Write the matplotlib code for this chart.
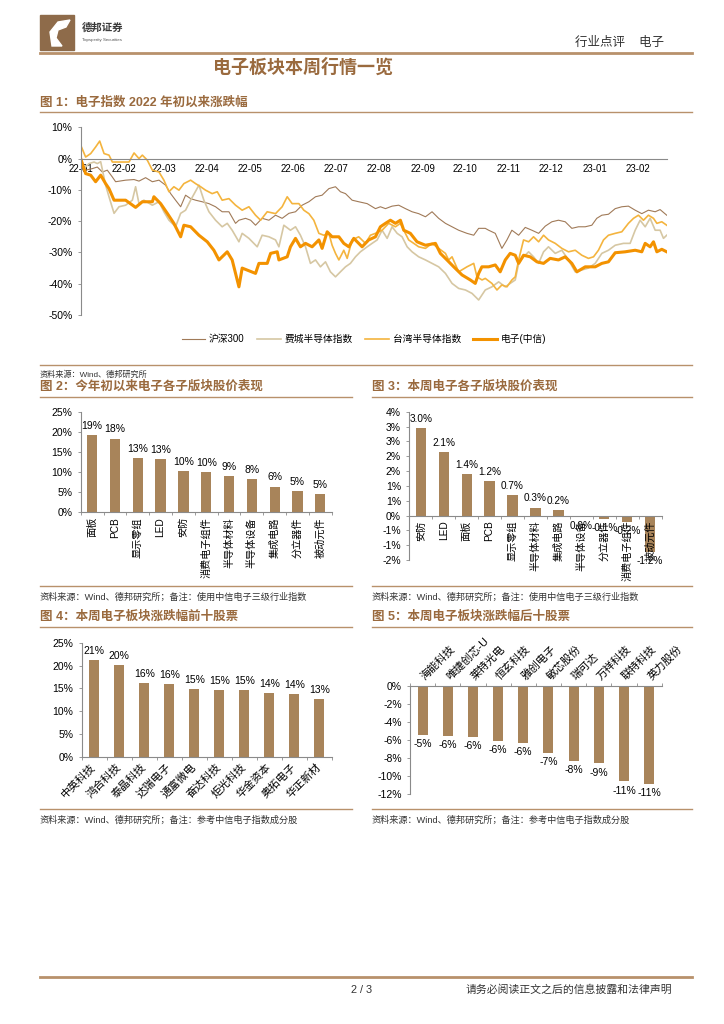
import datetime
import numpy as np
import matplotlib
matplotlib.use("Agg")
import matplotlib.pyplot as plt
import matplotlib.dates as mdates
from matplotlib.lines import Line2D
from matplotlib.patches import Rectangle, Polygon

plt.rcParams['font.family'] = ['Liberation Sans', 'Noto Sans CJK SC']

# ---------- data ----------
# fig 1: (days since 2022-01-01, % change)
hs300 = [(0,-0.5),(3.5,-3.7),(8.3,-3.2),(11.8,-2.7),(15.4,-4.3),(18.9,-3.7),(22.5,-5.9),(24.8,-7.4),(31.9,-6.9),(37.9,-6.7),
         (41.4,-7.2),(46.1,-6.1),(50.9,-7.4),(55.6,-6.9),(60.3,-8.5),(63.9,-11.2),(67.4,-13.3),(71,-15.4),(74.5,-11.7),(78.1,-12.8),
         (81.6,-13.3),(86.3,-13.8),(91.1,-14.4),(95.8,-15.4),(100.5,-17),(105.3,-17),(110,-20.7),(112.4,-19.7),(117.1,-19.1),(120.7,-19.7),
         (124.2,-21.3),(128.9,-19.1),(133.7,-19.7),(138.4,-18.1),(143.1,-19.1),(147.9,-17.5),(152.6,-17),(157.3,-14.9),(162.1,-13.8),(166.8,-12.2),
         (171.5,-11.7),(176.3,-9.6),(181,-9),(184.5,-10.6),(188.1,-11.2),(192.8,-13.3),(197.5,-13.8),(203.5,-14.4),(209.4,-16),(212.9,-15.4),
         (216.5,-16),(221.2,-15.2),(225.9,-14.9),(230.7,-16),(235.4,-17),(240.1,-17.6),(244.9,-18.6),(249.6,-17),(254.3,-19.1),(259.1,-20.7),
         (263.8,-21.8),(268.5,-22.9),(274.4,-23.9),(279.2,-24.5),(282.7,-22.3),(287.4,-22.3),(289.8,-22.9),(294.5,-23.9),(299.2,-28.7),(302.8,-26),
         (306.3,-22.9),(311.1,-24.5),(315.8,-22),(320.5,-22.9),(325.3,-23.9),(330,-21.6),(334.7,-20.2),(339.4,-19.7),(344.2,-20.2),(348.9,-22.3),
         (353.6,-21.8),(358.4,-21.8),(363.1,-21.3),(366.6,-19.1),(370.2,-18.1),(374.9,-17.8),(379.7,-16),(384.4,-15.4),(389.1,-15.2),(393.9,-16.5),
         (398.6,-17.6),(403.3,-16.5),(408.1,-17),(411.6,-16.3),(416.3,-18.1)]
phlx = [(0,0.5),(2.4,-3.2),(5.9,-1.6),(9.5,-1.1),(11.8,-1.6),(14.2,-1),(17.7,-8.5),(20.1,-12.2),(23.7,-17.5),(27.2,-15.4),
        (31.9,-14.9),(36.7,-13.3),(39,-9),(41.4,-14.4),(44.9,-13.3),(50.9,-14.9),(55.6,-13.8),(59.1,-17),(62.7,-19.7),(67.4,-21.8),
        (71,-17.5),(74.5,-16.5),(78.1,-13.3),(84,-8.5),(87.5,-13.3),(91.1,-17),(95.8,-19.7),(100.5,-21.8),(104.1,-20.7),(107.6,-22.9),
        (112.4,-26.6),(114.7,-23.9),(119.5,-25.5),(125.4,-28.2),(128.9,-24.5),(133.7,-25),(138.4,-26),(140.8,-28.2),(144.3,-21.3),(149,-22.9),
        (152.6,-21.8),(156.1,-24.5),(159.7,-28.2),(163.2,-33.5),(166.8,-32.4),(170.3,-34.6),(173.9,-33),(177.4,-36.2),(181,-37.8),(184.5,-36.2),
        (188.1,-34.6),(191.6,-33.5),(195.2,-31.4),(198.7,-29.8),(203.5,-28.2),(207,-27.1),(210.6,-26),(214.1,-22.9),(217.7,-25.5),(221.2,-21.8),
        (224.8,-23.9),(228.3,-25),(231.9,-28.2),(235.4,-29.8),(240.1,-31.4),(244.9,-32.4),(249.6,-33.5),(254.3,-34.6),(259.1,-36.7),(263.8,-39.9),
        (268.5,-41.5),(273.3,-42),(278,-43.1),(282.7,-45.2),(287.4,-42),(292.1,-41),(296.9,-39.4),(301.6,-41),(305.1,-39.9),(308.7,-38.8),
        (311.1,-33.5),(314.6,-31.4),(318.2,-29.8),(321.7,-31.4),(325.3,-33.5),(328.8,-29.8),(332.3,-28.2),(337.1,-30.3),(341.8,-29.3),(346.5,-32.4),
        (351.3,-36.2),(356,-35.6),(360.7,-35),(365.5,-33.5),(370.2,-30.3),(374.9,-29.3),(379.7,-27.7),(385.6,-27.1),(390.3,-27.1),(393.9,-22.9),
        (397.4,-19.7),(401,-21.8),(404.5,-19.1),(408.1,-22.9),(411.6,-22.9),(414,-25.5),(416.3,-24.5)]
twse = [(0,4.3),(3.5,0.5),(7.1,1.6),(10.6,3.7),(13.5,5.6),(16.6,1.6),(20.1,1.1),(22.5,-1.1),(27.2,-1.1),(34.3,-1.1),
        (37.9,1.8),(41.4,0),(43.8,1.1),(47.3,-0.5),(50.9,-3.7),(55.6,-4.3),(59.1,-6.9),(62.7,-10.6),(66.2,-9),(69.8,-10.1),
        (73.3,-8),(78.1,-6.9),(81.6,-8),(85.2,-9),(88.7,-10.1),(93.4,-11.2),(97,-10.6),(100.5,-13.3),(105.3,-12.8),(110,-14.9),
        (114.7,-16.5),(119.5,-15.4),(124.2,-18.1),(127.8,-19.7),(132.5,-17),(138.4,-17.6),(143.1,-15.4),(146.7,-12.2),(150.2,-14.4),(155,-14.4),
        (158.5,-16.5),(162.1,-17.6),(165.6,-19.7),(169.2,-23.9),(172.7,-24.5),(176.3,-23.9),(178.6,-27.7),(181,-30.3),(183.4,-32.4),(186.9,-29.3),
        (189.3,-31.9),(192.8,-26),(197.5,-25),(202.3,-27.1),(205.8,-24.5),(209.4,-23.9),(214.1,-22.9),(218.8,-20.7),(223.6,-21.8),(227.1,-20.7),
        (229.5,-22.9),(233,-26),(236.6,-27.1),(240.1,-28.2),(244.9,-28.7),(249.6,-27.1),(254.3,-28.7),(259.1,-30.3),(261.4,-32.4),(263.8,-31.4),
        (268.5,-36.2),(274.4,-34.6),(279.2,-33.5),(281.5,-37.8),(285.1,-38.8),(287.4,-38.3),(292.1,-39.9),(295.7,-42),(299.2,-40.4),(302.8,-41),
        (306.3,-38.8),(308.7,-37.8),(311.1,-32.4),(314.6,-26),(318.2,-26.6),(321.7,-25),(325.3,-26.6),(328.8,-24.5),(332.3,-26),(337.1,-27.1),
        (341.8,-28.7),(346.5,-29.8),(351.3,-29.3),(356,-30.9),(360.7,-31.9),(364.3,-31.4),(367.8,-29.3),(371.4,-26),(374.9,-24.5),(379.7,-23.9),
        (384.4,-23.4),(389.1,-20.7),(392.7,-19.1),(396.2,-18.1),(399.8,-19.7),(403.3,-18.1),(406.9,-19.1),(409.3,-20.7),(412.8,-20.2),(416.3,-21.3)]
citic_elec = [(0,0),(3.5,-4.8),(7.1,-5.3),(10.6,-7.4),(14.2,-5.3),(17.7,-8),(20.1,-9.6),(23.7,-13.3),(31.9,-13.3),(39,-15.6),
              (43.8,-13.8),(50.9,-13.8),(52,-12.2),(56.8,-14.4),(61.5,-17.5),(66.2,-20.7),(71,-25),(73.3,-21.3),(78.1,-21.8),(84,-24.5),
              (89.9,-26.6),(94.6,-29.3),(98.2,-32.4),(104.1,-29.8),(107.6,-32.4),(112.4,-41),(114.7,-35),(124.2,-36.7),(126.6,-33.5),(132.5,-33.5),
              (134.9,-30.3),(139.6,-29.8),(140.8,-32.4),(146.7,-31.4),(149,-28.2),(152.6,-25.5),(156.1,-28.2),(159.7,-27.1),(164.4,-28.2),(169.2,-26),
              (171.5,-28.7),(175.1,-23.4),(178.6,-25),(183.4,-25),(186.9,-27.1),(190.5,-28.2),(194,-25.5),(199.9,-28.2),(204.6,-26),(209.4,-25),
              (212.9,-21.8),(216.5,-20.7),(220,-19.7),(223.6,-20.7),(227.1,-19.7),(229.5,-22.9),(234.2,-23.9),(238.9,-26.6),(244.9,-27.7),(252,-27.1),
              (255.5,-30.3),(260.2,-32.4),(265,-34.6),(270.9,-37.2),(276.8,-38.8),(280.3,-39.9),(282.7,-36.7),(285,-34.6),(289.8,-34.6),(294.5,-34),
              (298,-36.2),(301.6,-32.4),(305.1,-30.3),(308.7,-30.9),(311.1,-33.5),(314.6,-30.9),(319.3,-31.4),(324.1,-33),(328.8,-33.5),(333.5,-31.9),
              (339.4,-32.4),(344.2,-31.4),(348.9,-33.5),(352.5,-36.2),(358.4,-34.6),(365.5,-34.6),(370.2,-33.5),(374.9,-33),(379.7,-30.1),(386.8,-29.8),
              (393.9,-29.3),(398.6,-29.8),(401,-27.1),(404.5,-28.2),(406.9,-26.6),(409.3,-29.8),(412.8,-29),(416.3,-29.8)]

# fig 2: YTD by sub-sector
ytd_names = ['面板', 'PCB', '显示零组', 'LED', '安防', '消费电子组件', '半导体材料', '半导体设备', '集成电路', '分立器件', '被动元件']
ytd_vals = [19.1, 18.3, 13.4, 13.3, 10.2, 9.9, 9.1, 8.2, 6.4, 5.3, 4.6]

# fig 3: this week by sub-sector
wk_names = ['安防', 'LED', '面板', 'PCB', '显示零组', '半导体材料', '集成电路', '半导体设备', '分立器件', '消费电子组件', '被动元件']
wk_vals = [2.96, 2.14, 1.41, 1.16, 0.68, 0.27, 0.18, -0.04, -0.12, -0.21, -1.24]

# fig 4 / fig 5: top and bottom ten stocks
top_names = ['中英科技', '鸿合科技', '泰晶科技', '达瑞电子', '通富微电', '奋达科技', '炬光科技', '华金资本', '奥拓电子', '华正新材']
top_vals = [21.1, 20.1, 16.1, 15.9, 14.8, 14.7, 14.6, 14.0, 13.7, 12.6]
bot_names = ['海能科技', '唯捷创芯-U', '莱特光电', '恒玄科技', '雅创电子', '敏芯股份', '瑞可达', '万祥科技', '联特科技', '英力股份']
bot_vals = [-5.45, -5.55, -5.7, -6.1, -6.3, -7.4, -8.3, -8.6, -10.6, -10.9]

# ---------- page ----------
W, H = 724, 1024
BROWN_TXT = '#9A6A3E'
RULE = '#B8916B'
BAR = '#A8845A'
AXIS = '#8A8A8A'
TICK_FS = 7.5


def fx(x):
    return x / W


def fy(y):
    return 1 - y / H


fig = plt.figure(figsize=(7.24, 10.24), dpi=100)


def hline(x0, x1, y, lw=1.0, color=RULE):
    fig.add_artist(Line2D([fx(x0), fx(x1)], [fy(y), fy(y)], transform=fig.transFigure, color=color, lw=lw))


def add_ax(l, r, t, b):
    return fig.add_axes([fx(l), fy(b), fx(r) - fx(l), (b - t) / H])


def style(ax):
    for s in ['top', 'right']:
        ax.spines[s].set_visible(False)
    for s in ['left', 'bottom']:
        ax.spines[s].set_color(AXIS)
        ax.spines[s].set_linewidth(0.8)
    ax.tick_params(labelsize=TICK_FS, colors='black', length=2.5, width=0.6, color=AXIS)
    ax.patch.set_alpha(0)


def pct_round(v):
    # excel style half-up rounding for axis labels
    return f"{int(np.sign(v) * np.floor(abs(v) + 0.5))}%"


# header
fig.add_artist(Rectangle((fx(40), fy(50)), fx(34), 35 / H, transform=fig.transFigure, color='#8E6B4A'))
fig.add_artist(Polygon([(fx(52), fy(46)), (fx(50), fy(32)), (fx(58), fy(22)), (fx(70), fy(20)),
                        (fx(66), fy(27)), (fx(58), fy(30)), (fx(56), fy(38)), (fx(62), fy(46))],
                       closed=True, transform=fig.transFigure, color='white'))
fig.text(fx(82), fy(28), '德邦证券', fontsize=7.5, fontweight='bold', color='#3a3a3a', va='center')
fig.text(fx(82), fy(40), 'Topsperity Securities', fontsize=3.2, color='#555555', va='center')
fig.text(fx(664), fy(43), '行业点评    电子', fontsize=9, color='#333333', ha='right', va='center')
hline(40, 692, 53, lw=2.0)
fig.text(fx(303), fy(68), '电子板块本周行情一览', fontsize=13, fontweight='bold', color=BROWN_TXT, ha='center', va='center')

CAP_FS = 9
SRC_FS = 6.6

# figure captions and rules
fig.text(fx(40), fy(103), '图 1：电子指数 2022 年初以来涨跌幅', fontsize=CAP_FS, fontweight='bold', color=BROWN_TXT, va='center')
hline(40, 692, 112)
hline(40, 692, 365)
fig.text(fx(40), fy(375), '资料来源：Wind、德邦研究所', fontsize=5.9, color='#333333', va='center')

fig.text(fx(40), fy(387), '图 2：今年初以来电子各子版块股价表现', fontsize=CAP_FS, fontweight='bold', color=BROWN_TXT, va='center')
fig.text(fx(372), fy(387), '图 3：本周电子各子版块股价表现', fontsize=CAP_FS, fontweight='bold', color=BROWN_TXT, va='center')
hline(40, 352, 397)
hline(372, 692, 397)
hline(40, 352, 586)
hline(372, 692, 586)
fig.text(fx(40), fy(597), '资料来源：Wind、德邦研究所；备注：使用中信电子三级行业指数', fontsize=SRC_FS, color='#333333', va='center')
fig.text(fx(372), fy(597), '资料来源：Wind、德邦研究所；备注：使用中信电子三级行业指数', fontsize=SRC_FS, color='#333333', va='center')

fig.text(fx(40), fy(617), '图 4：本周电子板块涨跌幅前十股票', fontsize=CAP_FS, fontweight='bold', color=BROWN_TXT, va='center')
fig.text(fx(372), fy(617), '图 5：本周电子板块涨跌幅后十股票', fontsize=CAP_FS, fontweight='bold', color=BROWN_TXT, va='center')
hline(40, 352, 627)
hline(372, 692, 627)
hline(40, 352, 809)
hline(372, 692, 809)
fig.text(fx(40), fy(820), '资料来源：Wind、德邦研究所；备注：参考中信电子指数成分股', fontsize=SRC_FS, color='#333333', va='center')
fig.text(fx(372), fy(820), '资料来源：Wind、德邦研究所；备注：参考中信电子指数成分股', fontsize=SRC_FS, color='#333333', va='center')

# footer
hline(40, 692, 977, lw=2.0)
fig.text(fx(362), fy(990), '2 / 3', fontsize=7.8, color='#333333', ha='center', va='center')
fig.text(fx(672), fy(990), '请务必阅读正文之后的信息披露和法律声明', fontsize=7.8, color='#333333', ha='right', va='center')

# ---------- fig 1: line chart ----------
ax1 = add_ax(80.7, 667, 127.3, 315)
style(ax1)
base = mdates.date2num(datetime.datetime(2022, 1, 1))
series = [(hs300, '沪深300', '#A07A58', 0.8),
          (phlx, '费城半导体指数', '#D6C7A3', 1.2),
          (twse, '台湾半导体指数', '#F4B43E', 1.2),
          (citic_elec, '电子(中信)', '#F39200', 2.2)]
for pts, name, color, lw in series:
    d, v = np.array(pts).T
    ax1.plot(base + d, v, color=color, lw=lw, label=name, solid_joinstyle='round')
ax1.set_ylim(-50, 10)
ax1.set_yticks(range(-50, 11, 10))
ax1.set_yticklabels([f"{t}%" for t in range(-50, 11, 10)])
ax1.set_xlim(base, base + 416.5)
ax1.xaxis.set_major_locator(mdates.MonthLocator())
ax1.xaxis.set_major_formatter(mdates.DateFormatter('%y-%m'))
ax1.spines['bottom'].set_position(('data', 0))
ax1.tick_params(axis='x', length=0, pad=4, labelsize=7)
ax1.legend(loc='center', bbox_to_anchor=(fx(364), fy(339)), bbox_transform=fig.transFigure, ncol=4,
           frameon=False, fontsize=7, handlelength=2.4, columnspacing=1.3, handletextpad=0.4)


# ---------- bar charts ----------
def bar_chart(ax, names, vals, width, fmt, label_size=7.5):
    style(ax)
    x = np.arange(len(vals))
    ax.bar(x, vals, width=width, color=BAR)
    ax.set_xlim(-0.5, len(vals) - 0.5)
    ax.set_xticks(x)
    ax.set_xticks(np.arange(len(vals) + 1) - 0.5, minor=True)
    ax.tick_params(axis='x', which='major', length=0)
    ax.tick_params(axis='x', which='minor', length=2.5, width=0.6, color=AXIS)
    for xi, v in zip(x, vals):
        off = 3 if v >= 0 else -3
        ax.annotate(fmt(v), (xi, v), xytext=(0, off), textcoords='offset points',
                    ha='center', va='bottom' if v >= 0 else 'top', fontsize=label_size)
    return x


ax2 = add_ax(80.7, 331.7, 411.7, 512.3)
bar_chart(ax2, ytd_names, ytd_vals, 0.45, lambda v: f"{v:.0f}%")
ax2.set_ylim(0, 25)
ax2.set_yticks(range(0, 26, 5))
ax2.set_yticklabels([f"{t}%" for t in range(0, 26, 5)])
ax2.set_xticklabels(ytd_names, rotation=90, fontsize=7.3, va='top', ha='center')

ax3 = add_ax(409.3, 661.7, 411.7, 560)
bar_chart(ax3, wk_names, wk_vals, 0.45, lambda v: f"{v:.1f}%".replace('-0.0%', '0.0%'), label_size=7.2)
ax3.set_ylim(-1.5, 3.5)
yt3 = np.arange(-1.5, 3.51, 0.5)
ax3.set_yticks(yt3)
ax3.set_yticklabels([pct_round(t) for t in yt3])
ax3.spines['bottom'].set_position(('data', 0))
ax3.set_xticklabels(wk_names, rotation=90, fontsize=7.3, va='top', ha='center')

ax4 = add_ax(81.7, 331.7, 642.7, 756.7)
bar_chart(ax4, top_names, top_vals, 0.4, lambda v: f"{v:.0f}%")
ax4.set_ylim(0, 25)
ax4.set_yticks(range(0, 26, 5))
ax4.set_yticklabels([f"{t}%" for t in range(0, 26, 5)])
ax4.set_xticklabels(top_names, rotation=45, fontsize=7.8, ha='right', va='center', rotation_mode='anchor')
ax4.tick_params(axis='x', which='major', pad=6)

ax5 = add_ax(410, 661.7, 686, 794)
bar_chart(ax5, bot_names, bot_vals, 0.4, lambda v: f"{v:.0f}%")
ax5.set_ylim(-12, 0)
ax5.set_yticks(range(-12, 1, 2))
ax5.set_yticklabels([f"{t}%" for t in range(-12, 1, 2)])
ax5.spines['bottom'].set_visible(False)
ax5.spines['top'].set_visible(True)
ax5.spines['top'].set_color(AXIS)
ax5.spines['top'].set_linewidth(0.8)
ax5.xaxis.tick_top()
ax5.tick_params(axis='x', which='minor', top=True, bottom=False, length=2.5)
ax5.set_xticklabels(bot_names, rotation=45, fontsize=7.8, ha='left', va='center', rotation_mode='anchor')
ax5.tick_params(axis='x', which='major', pad=6)

fig.savefig('out.png', dpi=100)
